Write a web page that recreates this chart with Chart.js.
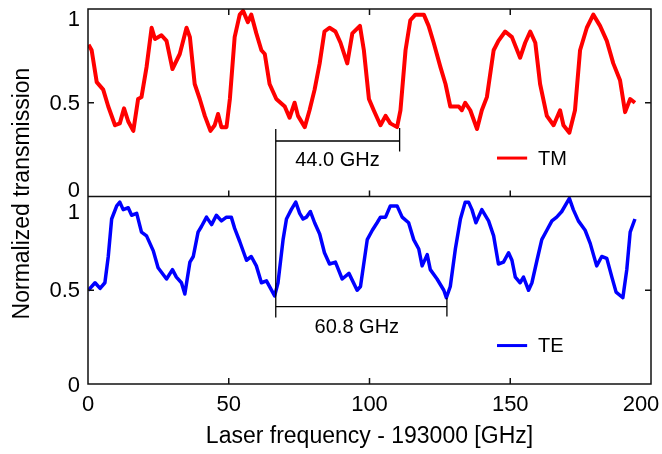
<!DOCTYPE html>
<html>
<head>
<meta charset="utf-8">
<script src="https://cdn.jsdelivr.net/npm/chart.js@4"></script>
<style>
  html, body { margin: 0; padding: 0; background: #fff; }
  #wrap { width: 662px; height: 454px; }
</style>
</head>
<body>
<div id="wrap"><canvas id="transChart"></canvas></div>
<script>
// TM trace: [frequency offset (GHz), normalized transmission]
const tmTrace = [
  [0.2,0.81],[1.3,0.78],[3.1,0.61],[5.4,0.57],[7.2,0.48],[9.6,0.38],[11.3,0.39],[12.8,0.47],
  [14.3,0.40],[16.1,0.35],[17.8,0.52],[19.0,0.53],[20.8,0.69],[22.6,0.90],[23.8,0.84],[26.1,0.86],
  [27.9,0.83],[30.0,0.68],[32.6,0.76],[35.0,0.90],[36.2,0.85],[37.9,0.60],[39.7,0.52],[41.5,0.43],
  [43.5,0.35],[45.0,0.38],[46.2,0.44],[47.4,0.37],[49.2,0.37],[50.4,0.52],[52.1,0.85],[53.9,0.97],
  [55.1,0.99],[56.8,0.93],[58.0,0.97],[59.8,0.87],[61.6,0.78],[62.8,0.76],[64.5,0.60],[66.9,0.52],
  [69.9,0.48],[71.6,0.42],[73.4,0.50],[74.6,0.43],[77.0,0.37],[78.7,0.46],[80.5,0.57],[82.3,0.71],
  [84.0,0.88],[85.8,0.90],[87.9,0.88],[89.7,0.82],[92.1,0.71],[93.9,0.87],[96.6,0.91],[98.0,0.78],
  [99.8,0.52],[101.5,0.46],[103.9,0.38],[105.7,0.43],[107.4,0.39],[109.8,0.37],[111.0,0.46],[112.8,0.78],
  [114.5,0.94],[116.3,0.97],[119.3,0.97],[121.0,0.91],[122.8,0.82],[125.2,0.69],[127.0,0.60],[128.7,0.48],
  [131.7,0.48],[132.8,0.46],[134.0,0.50],[135.8,0.46],[138.2,0.36],[139.9,0.46],[141.7,0.53],[144.1,0.78],
  [145.8,0.83],[148.2,0.88],[150.6,0.85],[153.5,0.74],[155.3,0.82],[157.1,0.88],[158.9,0.82],[160.6,0.60],
  [163.0,0.43],[165.4,0.38],[167.7,0.46],[168.9,0.38],[171.0,0.34],[173.0,0.46],[174.8,0.78],[177.2,0.90],
  [179.5,0.97],[181.9,0.91],[184.3,0.83],[186.6,0.71],[189.0,0.62],[190.8,0.45],[192.6,0.52],[194.3,0.50]
];

// TE trace
const teTrace = [
  [0.1,0.50],[2.5,0.54],[4.3,0.51],[6.0,0.54],[7.2,0.68],[8.4,0.88],[10.2,0.95],[11.3,0.97],
  [12.5,0.93],[14.3,0.94],[15.5,0.90],[17.3,0.91],[19.0,0.81],[20.8,0.79],[23.2,0.71],[24.9,0.62],
  [27.9,0.56],[30.0,0.61],[31.4,0.57],[33.2,0.54],[34.4,0.48],[36.2,0.65],[37.4,0.68],[39.1,0.81],
  [40.3,0.84],[42.1,0.89],[43.9,0.85],[45.6,0.90],[47.4,0.87],[49.2,0.89],[50.9,0.89],[52.1,0.83],
  [53.9,0.76],[56.3,0.66],[58.0,0.68],[59.8,0.63],[61.6,0.54],[63.4,0.55],[66.3,0.47],[67.5,0.54],
  [69.3,0.77],[70.5,0.88],[72.2,0.93],[73.8,0.97],[75.2,0.91],[76.4,0.88],[77.6,0.89],[79.0,0.92],
  [80.5,0.86],[82.3,0.80],[84.0,0.70],[85.8,0.64],[87.9,0.65],[90.3,0.56],[92.7,0.59],[95.6,0.50],
  [96.8,0.52],[99.2,0.77],[101.0,0.82],[102.7,0.86],[103.9,0.89],[105.7,0.89],[107.4,0.95],[109.8,0.95],
  [111.6,0.89],[113.9,0.86],[115.7,0.77],[117.5,0.72],[118.7,0.63],[120.5,0.69],[121.6,0.61],[124.0,0.56],
  [126.4,0.50],[127.3,0.46],[128.7,0.52],[130.5,0.72],[132.3,0.88],[134.0,0.97],[135.2,0.97],[136.4,0.93],
  [137.8,0.86],[139.9,0.93],[142.3,0.87],[144.1,0.79],[145.8,0.64],[147.6,0.65],[149.4,0.70],[150.6,0.66],
  [151.8,0.57],[153.5,0.54],[154.7,0.57],[156.5,0.50],[157.7,0.54],[159.5,0.66],[161.2,0.77],[163.0,0.82],
  [164.8,0.87],[166.5,0.89],[168.3,0.92],[171.0,0.99],[172.4,0.93],[174.2,0.87],[176.6,0.82],[178.4,0.75],
  [180.7,0.63],[182.5,0.68],[184.3,0.67],[186.1,0.57],[187.6,0.49],[190.0,0.46],[191.4,0.61],[192.6,0.81],
  [194.3,0.88]
];

const xTicks = [0, 50, 100, 150, 200];
const yTicks = [0, 0.5, 1];

// free spectral ranges marked on the plot (GHz)
const fsrStart = 66.7;
const fsrTM = 44.0;
const fsrTE = 60.8;

const FONT = "'Liberation Sans', Arial, sans-serif";

const toPoints = trace => trace.map(([x, y]) => ({ x, y }));

// frame, inward ticks, tick labels, FSR brackets and the per-panel legends
const panelDecor = {
  id: 'panelDecor',
  afterDatasetsDraw(chart) {
    const { ctx, chartArea: a, scales } = chart;
    const x = scales.x, yTM = scales.yTM, yTE = scales.yTE;
    const mid = yTM.bottom;
    ctx.save();

    // brackets
    ctx.strokeStyle = '#000';
    ctx.lineWidth = 1.3;
    const x0 = x.getPixelForValue(fsrStart);
    const xTM = x.getPixelForValue(fsrStart + fsrTM);
    const xTE = x.getPixelForValue(fsrStart + fsrTE);
    ctx.beginPath();
    ctx.moveTo(x0, yTM.getPixelForValue(0.36));
    ctx.lineTo(x0, yTE.getPixelForValue(0.355));
    ctx.moveTo(x0, yTM.getPixelForValue(0.296));
    ctx.lineTo(xTM, yTM.getPixelForValue(0.296));
    ctx.moveTo(xTM, yTM.getPixelForValue(0.365));
    ctx.lineTo(xTM, yTM.getPixelForValue(0.24));
    ctx.moveTo(x0, yTE.getPixelForValue(0.413));
    ctx.lineTo(xTE, yTE.getPixelForValue(0.413));
    ctx.moveTo(xTE, yTE.getPixelForValue(0.46));
    ctx.lineTo(xTE, yTE.getPixelForValue(0.36));
    ctx.stroke();

    ctx.fillStyle = '#000';
    ctx.font = '20px ' + FONT;
    ctx.textAlign = 'center';
    ctx.textBaseline = 'middle';
    ctx.fillText(fsrTM.toFixed(1) + ' GHz', x.getPixelForValue(88.6), yTM.getPixelForValue(0.19));
    ctx.fillText(fsrTE.toFixed(1) + ' GHz', x.getPixelForValue(95.5), yTE.getPixelForValue(0.30));

    // legends
    const legendAt = (ds, scale) => {
      const ly = scale.getPixelForValue(0.205);
      ctx.strokeStyle = ds.borderColor;
      ctx.lineWidth = 3;
      ctx.beginPath();
      ctx.moveTo(x.getPixelForValue(145.3), ly);
      ctx.lineTo(x.getPixelForValue(156.0), ly);
      ctx.stroke();
      ctx.fillStyle = '#000';
      ctx.textAlign = 'left';
      ctx.fillText(ds.label, x.getPixelForValue(159.9), ly + 1);
    };
    legendAt(chart.data.datasets[0], yTM);
    legendAt(chart.data.datasets[1], yTE);

    // frame and separator
    ctx.strokeStyle = '#111';
    ctx.lineWidth = 1.5;
    ctx.strokeRect(a.left, a.top, a.right - a.left, a.bottom - a.top);
    ctx.beginPath();
    ctx.moveTo(a.left, mid);
    ctx.lineTo(a.right, mid);

    // inward tick marks
    const tl = 6;
    xTicks.slice(1, -1).forEach(v => {
      const px = x.getPixelForValue(v);
      ctx.moveTo(px, a.top); ctx.lineTo(px, a.top + tl);
      ctx.moveTo(px, mid); ctx.lineTo(px, mid - tl);
      ctx.moveTo(px, a.bottom); ctx.lineTo(px, a.bottom - tl);
    });
    [yTM, yTE].forEach(s => {
      const py = s.getPixelForValue(0.5);
      ctx.moveTo(a.left, py); ctx.lineTo(a.left + tl, py);
      ctx.moveTo(a.right, py); ctx.lineTo(a.right - tl, py);
    });
    ctx.stroke();

    // tick labels; end labels nudged inward so they stay clear of each other and the edge
    ctx.fillStyle = '#000';
    ctx.font = '22px ' + FONT;
    ctx.textAlign = 'right';
    ctx.textBaseline = 'middle';
    const nudge = { yTM: { 0: -7, 1: 10 }, yTE: { 0: 1, 1: 15 } };
    [yTM, yTE].forEach(s => {
      yTicks.forEach(v => {
        const dy = (nudge[s.id][v] || 0);
        ctx.fillText(String(v), a.left - 8, s.getPixelForValue(v) + dy + 1);
      });
    });
    ctx.textAlign = 'center';
    xTicks.forEach(v => {
      const dx = v === xTicks[xTicks.length - 1] ? -10 : 0;
      ctx.fillText(String(v), x.getPixelForValue(v) + dx, a.bottom + 21);
    });

    // shared y title
    ctx.save();
    ctx.translate(23, (a.top + a.bottom) / 2 - 3);
    ctx.rotate(-Math.PI / 2);
    ctx.textAlign = 'center';
    ctx.font = '23px ' + FONT;
    ctx.fillText('Normalized transmission', 0, 0);
    ctx.restore();

    ctx.restore();
  }
};

const hiddenY = {
  type: 'linear',
  position: 'left',
  stack: 'panels',
  stackWeight: 1,
  min: 0,
  max: 1,
  grid: { display: false },
  border: { display: false },
  ticks: { display: false },
  afterFit: s => { s.width = 0; }
};

new Chart(document.getElementById('transChart'), {
  type: 'line',
  data: {
    datasets: [
      { label: 'TM', data: toPoints(tmTrace), yAxisID: 'yTM', borderColor: '#ff0000', borderWidth: 4, borderJoinStyle: 'round', pointRadius: 0, tension: 0 },
      { label: 'TE', data: toPoints(teTrace), yAxisID: 'yTE', borderColor: '#0000ff', borderWidth: 3.5, borderJoinStyle: 'round', pointRadius: 0, tension: 0 }
    ]
  },
  options: {
    responsive: true,
    maintainAspectRatio: false,
    animation: false,
    layout: { padding: { left: 88, right: 11, top: 9, bottom: 0 } },
    plugins: { legend: { display: false }, tooltip: { enabled: false } },
    scales: {
      x: {
        type: 'linear',
        min: 0,
        max: 200,
        afterBuildTicks: s => { s.ticks = xTicks.map(v => ({ value: v })); },
        grid: { display: false, drawTicks: false },
        border: { display: false },
        ticks: { display: false },
        title: { display: true, text: 'Laser frequency - 193000 [GHz]', color: '#000', font: { family: FONT, size: 23 }, padding: { top: 0, bottom: 4 } },
        afterFit: s => { s.height = 70; s.paddingLeft = 0; s.paddingRight = 0; }
      },
      yTE: { ...hiddenY },
      yTM: { ...hiddenY }
    }
  },
  plugins: [panelDecor]
});
</script>
</body>
</html>
